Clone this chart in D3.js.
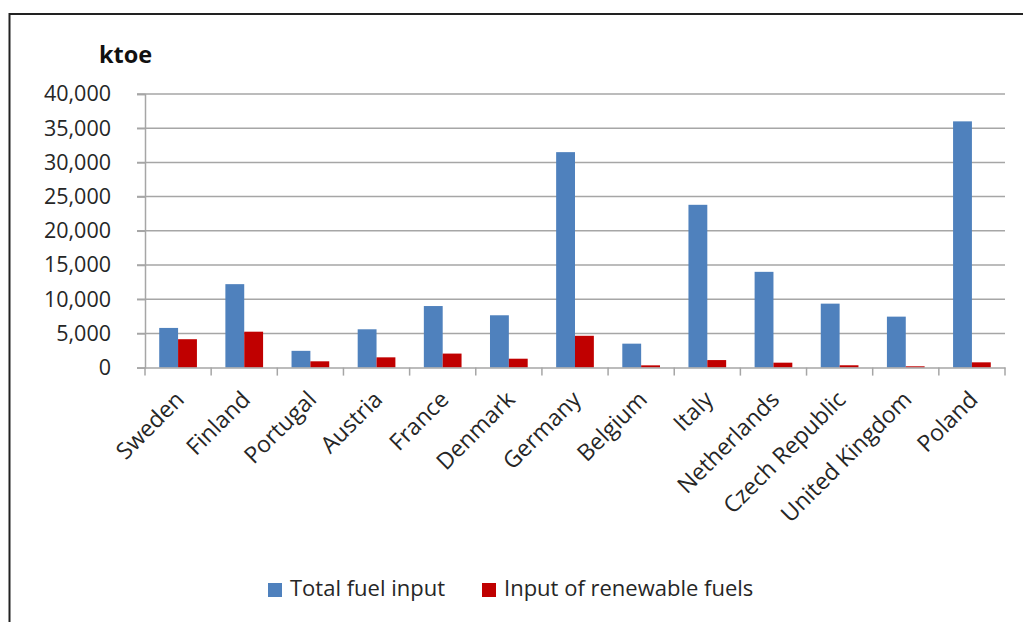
<!DOCTYPE html>
<html><head><meta charset="utf-8">
<script src="https://cdn.jsdelivr.net/npm/d3@7"></script>
<style>
html,body{margin:0;padding:0;background:#fff;}
svg{display:block;font-family:"Open Sans","Noto Sans",sans-serif;}
</style></head><body>
<svg id="chart" width="1023" height="622"></svg>
<script>
const categories = ["Sweden","Finland","Portugal","Austria","France","Denmark","Germany","Belgium","Italy","Netherlands","Czech Republic","United Kingdom","Poland"];
const seriesNames = ["Total fuel input","Input of renewable fuels"];
const totalFuel = [5800,12200,2450,5600,9000,7650,31500,3500,23800,14000,9350,7450,36000];
const renewableFuel = [4150,5250,920,1500,2050,1300,4650,330,1100,720,340,190,770];
const yTicks = [0,5000,10000,15000,20000,25000,30000,35000,40000];
const colors = ["#4f81bd","#c00000"];
const unitLabel = "ktoe";

(function(){
const svg = d3.select("#chart");
// frame
svg.append("rect").attr("x",9.5).attr("y",14).attr("width",1020).attr("height",620)
  .attr("fill","none").attr("stroke","#222").attr("stroke-width",2);

const pLeft=145, pRight=1005, pTop=94, pBottom=367.6;
const x0 = d3.scaleBand().domain(categories).range([pLeft,pRight]).padding(0);
const bw = x0.bandwidth();
const x1 = d3.scaleBand().domain(seriesNames).range([bw*0.215, bw*0.785]).padding(0);
const y = d3.scaleLinear().domain([0,40000]).range([pBottom,pTop]);

// gridlines
svg.append("g").selectAll("line").data(yTicks.filter(d=>d>0)).join("line")
  .attr("x1",pLeft-8).attr("x2",pRight).attr("y1",d=>y(d)).attr("y2",d=>y(d))
  .attr("stroke","#a6a6a6").attr("stroke-width",1.5);

// y axis
const yAxis = svg.append("g").attr("transform",`translate(${pLeft},0)`)
  .call(d3.axisLeft(y).tickValues(yTicks).tickSize(8).tickPadding(26).tickFormat(d3.format(",")));
yAxis.select(".domain").attr("stroke","#a6a6a6").attr("stroke-width",1.5);
yAxis.selectAll(".tick line").attr("stroke","#a6a6a6").attr("stroke-width",1.5);
yAxis.selectAll("text").attr("font-size",21.5).attr("fill","#262626").attr("font-family","Open Sans");

// bars
const data = categories.map((c,i)=>({cat:c, vals:[totalFuel[i], renewableFuel[i]]}));
const groups = svg.append("g").selectAll("g").data(data).join("g")
  .attr("transform",d=>`translate(${x0(d.cat)},0)`);
groups.selectAll("rect").data(d=>d.vals.map((v,j)=>({s:seriesNames[j],v,j}))).join("rect")
  .attr("x",d=>x1(d.s)).attr("width",x1.bandwidth())
  .attr("y",d=>y(d.v)).attr("height",d=>y(0)-y(d.v))
  .attr("fill",d=>colors[d.j]);

// x axis
const xAxis = svg.append("g").attr("transform",`translate(0,${pBottom})`)
  .call(d3.axisBottom(x0).tickSize(0).tickFormat(""));
xAxis.select(".domain").attr("stroke","#a6a6a6").attr("stroke-width",1.5);
svg.append("g").selectAll("line").data(d3.range(categories.length+1)).join("line")
  .attr("x1",i=>pLeft+i*bw).attr("x2",i=>pLeft+i*bw).attr("y1",pBottom).attr("y2",pBottom+8)
  .attr("stroke","#a6a6a6").attr("stroke-width",1.5);
svg.append("g").selectAll("text").data(categories).join("text")
  .attr("transform",d=>`translate(${x0(d)+bw/2+3},${pBottom+29}) rotate(-45)`)
  .attr("text-anchor","end").attr("dominant-baseline","middle")
  .attr("font-size",23).attr("fill","#262626").text(d=>d);

// unit label
svg.append("text").attr("x",99).attr("y",63).attr("font-size",23.5).attr("font-weight","bold")
  .attr("fill","#111").text(unitLabel);

// legend
const legX = [268, 482];
const leg = svg.append("g").selectAll("g").data(seriesNames).join("g")
  .attr("transform",(d,i)=>`translate(${legX[i]},583)`);
leg.append("rect").attr("width",14).attr("height",14).attr("fill",(d,i)=>colors[i]);
leg.append("text").attr("x",22).attr("y",7).attr("dominant-baseline","middle")
  .attr("font-size",22).attr("fill","#262626").text(d=>d);
})();
</script>
</body></html>
